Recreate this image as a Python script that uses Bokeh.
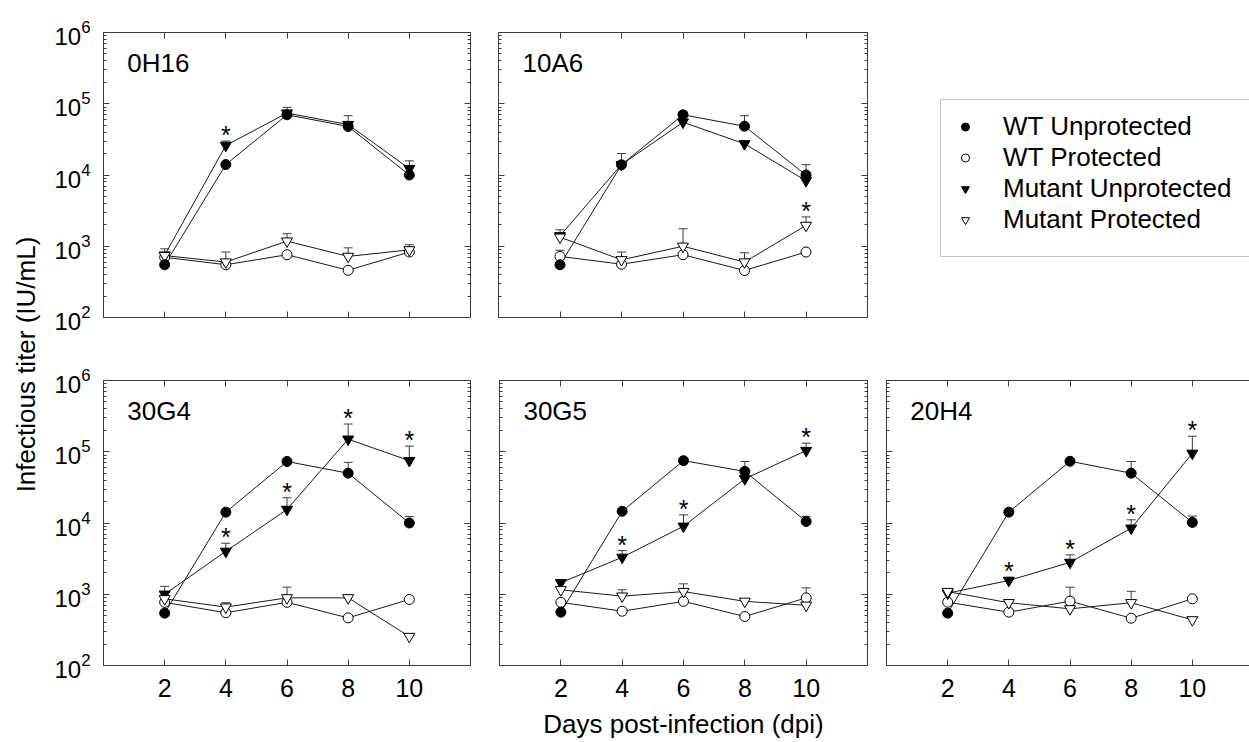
import math
from bokeh.plotting import figure
from bokeh.models import (Range1d, FixedTicker, LogAxis, LinearAxis, Whisker, TeeHead,
                          ColumnDataSource, Label, Legend, LegendItem, BoxAnnotation,
                          CustomJSTickFormatter)
from bokeh.layouts import row, column
from bokeh.embed import file_html
from bokeh.resources import INLINE
from bokeh.core.properties import value

# ---------------- data ----------------
DAYS = [2, 4, 6, 8, 10]
X_TICKS = [2, 4, 6, 8, 10]
Y_TICKS = [1e2, 1e3, 1e4, 1e5, 1e6]
SERIES_LABELS = ["WT Unprotected", "WT Protected", "Mutant Unprotected", "Mutant Protected"]
PANEL_NAMES = ["0H16", "10A6", "30G4", "30G5", "20H4"]
X_LABEL = "Days post-infection (dpi)"
Y_LABEL = "Infectious titer (IU/mL)"

# 0H16
wt_unprot_0h16 = [550, 14000, 70000, 48000, 10000]
wt_prot_0h16 = [700, 550, 760, 460, 830]
mut_unprot_0h16 = [750, 26000, 74000, 51000, 12300]
mut_prot_0h16 = [740, 600, 1180, 720, 890]
wt_unprot_top_0h16 = [None, None, None, None, None]
wt_prot_top_0h16 = [None, None, None, None, None]
mut_unprot_top_0h16 = [920, 30000, 89000, 68000, 15800]
mut_prot_top_0h16 = [None, 830, 1500, 950, 1050]
star_series_0h16 = "Mutant Unprotected"
star_flags_0h16 = [0, 1, 0, 0, 0]

# 10A6
wt_unprot_10a6 = [550, 13900, 70000, 48400, 10000]
wt_prot_10a6 = [720, 560, 760, 457, 830]
mut_unprot_10a6 = [1400, 14000, 55000, 27400, 8300]
mut_prot_10a6 = [1340, 645, 1000, 600, 1960]
wt_unprot_top_10a6 = [None, None, 77000, 68000, 14000]
wt_prot_top_10a6 = [880, None, None, None, None]
mut_unprot_top_10a6 = [None, 20000, None, None, None]
mut_prot_top_10a6 = [1700, 830, 1760, 810, 2580]
star_series_10a6 = "Mutant Protected"
star_flags_10a6 = [0, 0, 0, 0, 1]

# 30G4
wt_unprot_30g4 = [543, 14200, 73000, 50000, 10000]
wt_prot_30g4 = [770, 550, 770, 466, 845]
mut_unprot_30g4 = [1000, 4000, 15500, 150000, 75000]
mut_prot_30g4 = [863, 660, 890, 890, 255]
wt_unprot_top_30g4 = [None, None, None, 71000, 12300]
wt_prot_top_30g4 = [None, None, None, None, None]
mut_unprot_top_30g4 = [1290, 5200, 22600, 245000, 120000]
mut_prot_top_30g4 = [None, 760, 1260, None, 275]
star_series_30g4 = "Mutant Unprotected"
star_flags_30g4 = [0, 1, 1, 1, 1]

# 30G5
wt_unprot_30g5 = [560, 14600, 75000, 53000, 10500]
wt_prot_30g5 = [770, 578, 795, 487, 890]
mut_unprot_30g5 = [1450, 3300, 9000, 41700, 104000]
mut_prot_30g5 = [1155, 940, 1090, 795, 700]
wt_unprot_top_30g5 = [None, None, None, 73000, 12400]
wt_prot_top_30g5 = [None, None, None, None, 1230]
mut_unprot_top_30g5 = [1550, 4100, 13000, None, 132000]
mut_prot_top_30g5 = [None, 1155, 1400, None, None]
star_series_30g5 = "Mutant Unprotected"
star_flags_30g5 = [0, 1, 1, 0, 1]

# 20H4
wt_unprot_20h4 = [543, 14200, 73500, 50000, 10200]
wt_prot_20h4 = [774, 560, 800, 461, 863]
mut_unprot_20h4 = [1035, 1560, 2800, 8450, 95000]
mut_prot_20h4 = [1090, 760, 624, 760, 437]
wt_unprot_top_20h4 = [None, None, None, 73000, 12500]
wt_prot_top_20h4 = [None, None, 1255, None, None]
mut_unprot_top_20h4 = [None, 1730, 3570, 11100, 165000]
mut_prot_top_20h4 = [None, None, None, 1100, None]
star_series_20h4 = "Mutant Unprotected"
star_flags_20h4 = [0, 1, 1, 1, 1]

# ---------------- styling ----------------
FONT = "Liberation Sans"
INK = "#1a1a1a"
AXC = "#3c3c3c"
STYLES = {
    "WT Unprotected": dict(marker="circle", fill_color="black", size=10),
    "WT Protected": dict(marker="circle", fill_color="white", size=10),
    "Mutant Unprotected": dict(marker="inverted_triangle", fill_color="black", size=11),
    "Mutant Protected": dict(marker="inverted_triangle", fill_color="white", size=11),
}
Y_MINOR = [m * 10 ** e for e in range(2, 6) for m in range(2, 10)]
FRAME_H = 285
X_MAX = 12


def blank_formatter():
    return CustomJSTickFormatter(code="return ''")


def style_axis(ax, ticker, labels, font_size="24px", standoff=10):
    ax.ticker = ticker
    ax.major_tick_in = 6
    ax.major_tick_out = 0
    ax.minor_tick_in = 3
    ax.minor_tick_out = 0
    ax.axis_line_color = AXC
    ax.major_tick_line_color = AXC
    ax.minor_tick_line_color = AXC
    if labels:
        ax.major_label_text_font = FONT
        ax.major_label_text_font_size = font_size
        ax.major_label_text_color = "black"
        ax.major_label_standoff = standoff
    else:
        ax.formatter = blank_formatter()
        ax.major_label_text_font_size = "0px"
        ax.major_label_standoff = 0


def make_panel(name, series, tops, star_series, star_flags, frame_w, x_end,
               borders, xlabels, ylabels, xaxis_label=None, right_edge=True):
    bl, br, bt, bb = borders
    p = figure(frame_width=frame_w, frame_height=FRAME_H,
               x_range=Range1d(0, x_end), y_range=Range1d(100, 1e6),
               y_axis_type="log", toolbar_location=None, output_backend="svg",
               min_border_left=bl, min_border_right=br, min_border_top=bt,
               min_border_bottom=bb, background_fill_color="white",
               border_fill_color="white")
    p.grid.visible = False
    p.outline_line_color = AXC if right_edge else None

    xt = FixedTicker(ticks=X_TICKS, minor_ticks=[])
    yt = FixedTicker(ticks=Y_TICKS, minor_ticks=Y_MINOR)
    style_axis(p.xaxis[0], xt, xlabels, "25px", 13)
    style_axis(p.yaxis[0], yt, ylabels, "24px", 13)
    if xaxis_label:
        p.xaxis[0].axis_label = xaxis_label
        p.xaxis[0].axis_label_text_font = FONT
        p.xaxis[0].axis_label_text_font_size = "26px"
        p.xaxis[0].axis_label_text_font_style = "normal"
        p.xaxis[0].axis_label_text_color = "black"
        p.xaxis[0].axis_label_standoff = 9

    top_ax = LinearAxis()
    style_axis(top_ax, FixedTicker(ticks=X_TICKS, minor_ticks=[]), False)
    p.add_layout(top_ax, "above")
    if right_edge:
        right_ax = LogAxis()
        style_axis(right_ax, FixedTicker(ticks=Y_TICKS, minor_ticks=Y_MINOR), False)
        p.add_layout(right_ax, "right")

    # lines
    for lab in SERIES_LABELS:
        p.line(DAYS, series[lab], line_color=INK, line_width=1)
    # error bars (upper only)
    for lab in SERIES_LABELS:
        xs, lo, hi = [], [], []
        for d, v, t in zip(DAYS, series[lab], tops[lab]):
            if t is not None and t > v:
                xs.append(d); lo.append(v); hi.append(t)
        if xs:
            src = ColumnDataSource(dict(x=xs, lower=lo, upper=hi))
            w = Whisker(base="x", lower="lower", upper="upper", source=src,
                        line_color=AXC, line_width=1,
                        upper_head=TeeHead(size=9, line_color=AXC, line_width=1),
                        lower_head=None)
            p.add_layout(w)
    # markers
    for lab in ["WT Protected", "Mutant Unprotected", "Mutant Protected", "WT Unprotected"]:
        st = STYLES[lab]
        p.scatter(DAYS, series[lab], marker=st["marker"], size=st["size"],
                  fill_color=st["fill_color"], line_color="black", line_width=1)
    # significance asterisks
    sx, sy = [], []
    for d, v, t, f in zip(DAYS, series[star_series], tops[star_series], star_flags):
        if f:
            sx.append(d)
            sy.append(t if t is not None else v)
    if sx:
        p.text(x=sx, y=sy, text=["*"] * len(sx), text_font=value(FONT),
               text_font_size="25px", text_align="center",
               text_baseline="alphabetic", y_offset=-6, text_color="black")
    # panel name
    p.add_layout(Label(x=0.78, y=3.75e5, text=name, text_font=FONT,
                       text_font_size="26px", text_baseline="alphabetic",
                       text_color="black"))
    return p


def pack(wu, wp, mu, mp):
    return {"WT Unprotected": wu, "WT Protected": wp,
            "Mutant Unprotected": mu, "Mutant Protected": mp}


# Row 1
p1 = make_panel(PANEL_NAMES[0],
                pack(wt_unprot_0h16, wt_prot_0h16, mut_unprot_0h16, mut_prot_0h16),
                pack(wt_unprot_top_0h16, wt_prot_top_0h16, mut_unprot_top_0h16, mut_prot_top_0h16),
                star_series_0h16, star_flags_0h16, 367, X_MAX, (53, 14, 32, 31),
                False, True)
p2 = make_panel(PANEL_NAMES[1],
                pack(wt_unprot_10a6, wt_prot_10a6, mut_unprot_10a6, mut_prot_10a6),
                pack(wt_unprot_top_10a6, wt_prot_top_10a6, mut_unprot_top_10a6, mut_prot_top_10a6),
                star_series_10a6, star_flags_10a6, 369, X_MAX, (14, 16, 32, 31),
                False, False)

# Legend figure (its frame lines up with the panels of row 1)
LEG_W = 366
leg = figure(frame_width=LEG_W, frame_height=FRAME_H, x_range=Range1d(0, LEG_W),
             y_range=Range1d(0, FRAME_H), toolbar_location=None, output_backend="svg",
             x_axis_location=None, y_axis_location=None, min_border_left=0,
             min_border_right=0, min_border_top=32, min_border_bottom=31,
             outline_line_color=None)
leg.grid.visible = False
items = []
for lab in SERIES_LABELS:
    st = STYLES[lab]
    r = leg.scatter(x=[float("nan")], y=[float("nan")], marker=st["marker"], size=st["size"],
                    fill_color=st["fill_color"], line_color="black", line_width=1)
    items.append(LegendItem(label=lab, renderers=[r]))
legend = Legend(items=items, location=(72, 82), glyph_width=20, glyph_height=31,
                label_standoff=28, spacing=0, padding=0, margin=0,
                border_line_color=None, background_fill_alpha=0,
                label_text_font=FONT, label_text_font_size="26px",
                label_text_color="black", label_height=31)
leg.add_layout(legend)
leg.add_layout(BoxAnnotation(left=57, right=LEG_W + 60, top=218, bottom=61,
                             fill_alpha=0, line_color=AXC, line_width=1))

# Row 2
p3 = make_panel(PANEL_NAMES[2],
                pack(wt_unprot_30g4, wt_prot_30g4, mut_unprot_30g4, mut_prot_30g4),
                pack(wt_unprot_top_30g4, wt_prot_top_30g4, mut_unprot_top_30g4, mut_prot_top_30g4),
                star_series_30g4, star_flags_30g4, 367, X_MAX, (53, 14, 32, 77),
                True, True)
p4 = make_panel(PANEL_NAMES[3],
                pack(wt_unprot_30g5, wt_prot_30g5, mut_unprot_30g5, mut_prot_30g5),
                pack(wt_unprot_top_30g5, wt_prot_top_30g5, mut_unprot_top_30g5, mut_prot_top_30g5),
                star_series_30g5, star_flags_30g5, 368, X_MAX, (15, 9, 32, 77),
                True, False, xaxis_label=X_LABEL)
P5_FRAME = 363
p5 = make_panel(PANEL_NAMES[4],
                pack(wt_unprot_20h4, wt_prot_20h4, mut_unprot_20h4, mut_prot_20h4),
                pack(wt_unprot_top_20h4, wt_prot_top_20h4, mut_unprot_top_20h4, mut_prot_top_20h4),
                star_series_20h4, star_flags_20h4, P5_FRAME, X_MAX * P5_FRAME / 367.0,
                (10, 0, 32, 77), True, False, right_edge=False)

# Y label figure
LAB_W, TOTAL_H = 50, 742
ylab = figure(width=LAB_W, height=TOTAL_H, x_range=Range1d(0, LAB_W), y_range=Range1d(0, TOTAL_H),
              toolbar_location=None, output_backend="svg", x_axis_location=None,
              y_axis_location=None, min_border=0, outline_line_color=None)
ylab.grid.visible = False
ylab.add_layout(Label(x=25, y=378, text=Y_LABEL, angle=math.pi / 2, text_align="center",
                      text_baseline="middle", text_font=FONT, text_font_size="26px",
                      text_color="black"))

layout = row(ylab, column(row(p1, p2, leg), row(p3, p4, p5)))

with open("out.html", "w") as f:
    f.write(file_html(layout, INLINE))
